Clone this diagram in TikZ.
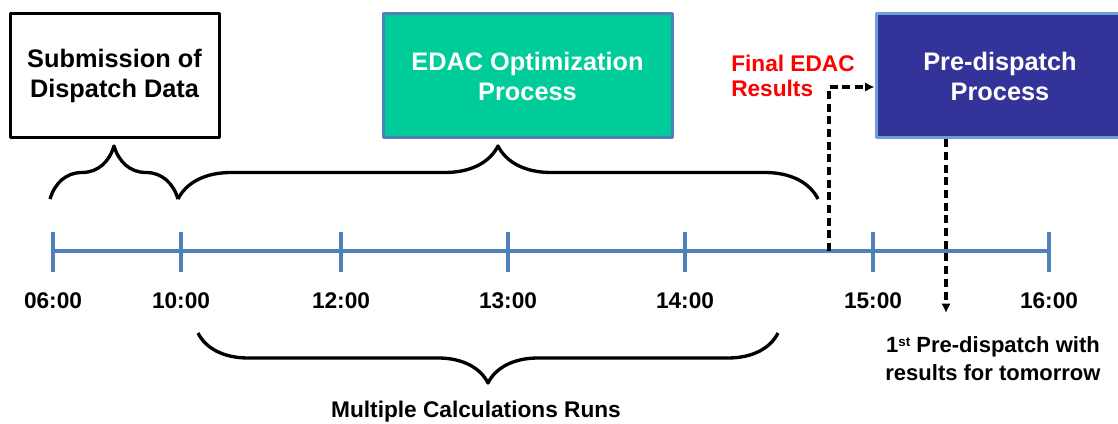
\documentclass[tikz,border=0pt]{standalone}
\usepackage{fontspec}
\setmainfont{Liberation Sans}
\usetikzlibrary{decorations.pathreplacing,arrows.meta}
\definecolor{axisblue}{RGB}{79,129,189}
\definecolor{edacgreen}{RGB}{0,204,153}
\definecolor{predark}{RGB}{51,51,153}
\definecolor{preedge}{RGB}{110,160,215}
\tikzset{
  procbox/.style={draw, line width=2.25pt, minimum height=93pt, inner sep=0pt, align=center, font=\fontsize{19}{22.5}\selectfont\bfseries},
  timelabel/.style={font=\fontsize{17}{19}\selectfont\bfseries},
  curly/.style={decorate, decoration={brace, amplitude=#1}, line width=2.5pt},
  dasharrow/.style={dash pattern=on 6pt off 3.5pt, line width=2.5pt, -{Latex[length=7pt,width=7pt]}},
}
\begin{document}
\begin{tikzpicture}[x=0.75pt, y=-0.75pt, line join=round]
    \path[use as bounding box, clip] (0,0) rectangle (1118,424);
    \node[procbox, minimum width=156.75pt, fill=white] (sub) at (114.5,76) {Submission of\\Dispatch Data};
    \node[procbox, minimum width=216.75pt, draw=axisblue, fill=edacgreen, text=white] (edac) at (527.5,76) {EDAC Optimization\\Process};
    \node[procbox, minimum width=186pt, draw=preedge, fill=predark, text=white] (pre) at (1000,76) {Pre-dispatch\\Process};
    \node[font=\fontsize{17}{19}\selectfont\bfseries, text=red, align=left, anchor=west, inner sep=0pt] (final) at (731,76) {Final EDAC\\Results};
    \draw[axisblue, line width=3pt] (53,251) -- (1049,251);
    \foreach \tx/\lab [count=\i] in {53/06:00,181/10:00,341/12:00,508/13:00,685/14:00,873/15:00,1049/16:00} {
      \draw[axisblue, line width=3pt] (\tx,232) -- (\tx,272);
      \node[timelabel] (tick\i) at (\tx,301) {\lab};
    }
    \draw[curly=39.75pt] (50,199) -- (178,199);
    \draw[curly=39.75pt] (178,199) -- (818,199);
    \draw[curly=37.5pt] (778,333) -- (198,333);
    \coordinate (res) at (829,251);
    \coordinate (tomorrow) at (946,313);
    \draw[dasharrow] (res) |- (pre.west |- 0,87);
    \draw[dasharrow] (pre.south -| tomorrow) -- (tomorrow);
    \node[font=\fontsize{16.5}{21}\selectfont\bfseries, align=center] (first) at (993,359) {1{\fontsize{10}{10}\selectfont\raisebox{5pt}{st}} Pre-dispatch with\\results for tomorrow};
    \node[font=\fontsize{17}{20}\selectfont\bfseries] (multi) at (476,412) {Multiple Calculations Runs};
  \end{tikzpicture}
\end{document}
